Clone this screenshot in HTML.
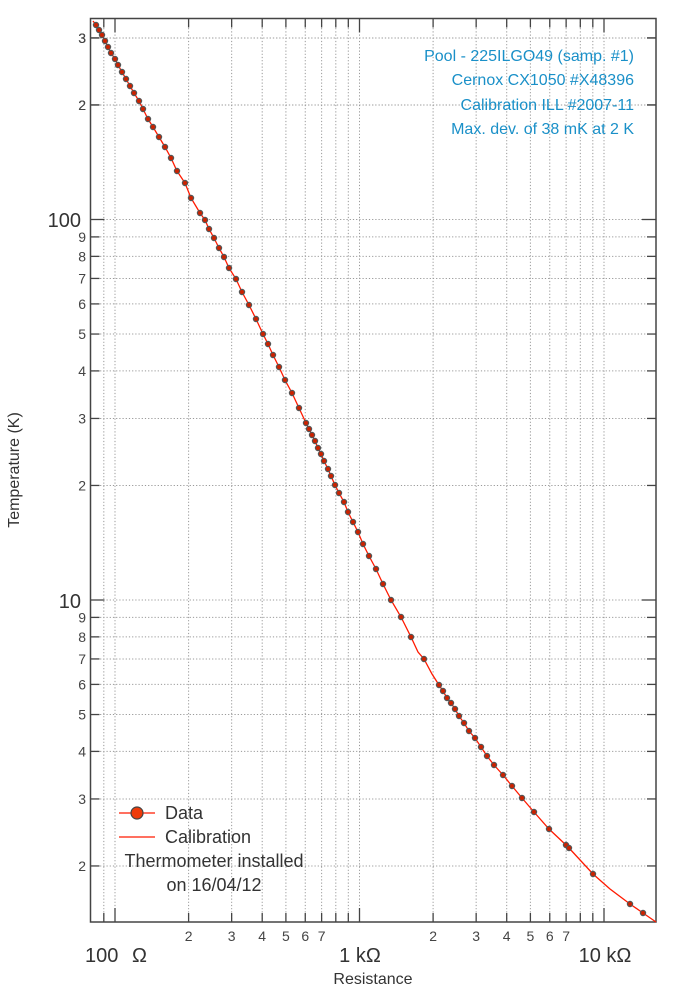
<!DOCTYPE html>
<html><head><meta charset="utf-8"><style>
html,body{margin:0;padding:0;background:#fff}
svg{display:block;font-family:"Liberation Sans",sans-serif}
</style></head><body>
<svg id="s" width="700" height="990" xmlns="http://www.w3.org/2000/svg">
<g id="grid" stroke="#999" stroke-width="1" stroke-dasharray="1.2,2"></g>
<g id="ticks" stroke="#444" stroke-width="1.3"></g>
<rect x="90.5" y="18.5" width="565.5" height="903.5" fill="none" stroke="#444" stroke-width="1.5"/>
<polyline id="curve" fill="none" stroke="#ff1a00" stroke-width="1.3" points="93,21 96,25 99,30 102,35 105,41 108,47 111,53 115,59 118,65 122,72 126,79 130,86 134,93 139,101 143,109 148,119 153,127 159,137 165,147 171,158 177,171 185,183 191,198 200,213 205,220 209,229 214,238 219,248 224,257 229,268 236,279 242,292 249,305 256,319 263,334 268,344 273,355 279,367 285,380 292,393 299,408 306,423 309,429 312,435 315,441 318,448 321,454 324,461 328,469 331,476 335,485 339,493 344,502 348,512 353,522 358,532 363,544 369,556 376,569 383,584 391,600 401,617 411,637 418,652 424,659 432,674 439,685 443,691 447,698 451,703 455,709 459,716 464,723 469,731 475,738 481,747 487,756 494,765 503,775 512,786 522,798 534,812 549,829 566,845 569,848 593,874 610,889 630,904 643,913 656,922"/>
<g id="dots"></g>
<g fill="#444" font-size="14" text-anchor="end" id="ylab"></g>
<g fill="#444" font-size="14" text-anchor="middle" id="xlab"></g>
<g fill="#333" font-size="20">
<text x="81" y="227" text-anchor="end">100</text>
<text x="81" y="608" text-anchor="end">10</text>
<text x="85" y="962">100</text><text x="132" y="962">Ω</text>
<text x="360" y="962" text-anchor="middle">1 kΩ</text>
<text x="605" y="962" text-anchor="middle">10 kΩ</text>
</g>
<text x="373" y="984" font-size="16" fill="#333" text-anchor="middle">Resistance</text>
<text transform="translate(19,470) rotate(-90)" font-size="16" fill="#333" text-anchor="middle">Temperature (K)</text>
<g fill="#1a90c8" font-size="16" text-anchor="end">
<text x="634" y="61">Pool - 225ILGO49 (samp. #1)</text>
<text x="634" y="85">Cernox CX1050 #X48396</text>
<text x="634" y="110">Calibration ILL #2007-11</text>
<text x="634" y="134">Max. dev. of 38 mK at 2 K</text>
</g>
<line x1="119" y1="813" x2="155" y2="813" stroke="#ff1a00" stroke-width="1.3"/>
<circle cx="137" cy="813" r="6" fill="#ee3a0a" stroke="#444" stroke-width="1.2"/>
<line x1="119" y1="837" x2="155" y2="837" stroke="#ff1a00" stroke-width="1.3"/>
<g fill="#333" font-size="18">
<text x="165" y="819">Data</text>
<text x="165" y="843">Calibration</text>
<text x="214" y="867" text-anchor="middle">Thermometer installed</text>
<text x="214" y="891" text-anchor="middle">on 16/04/12</text>
</g>
</svg>
<script>
var NS="http://www.w3.org/2000/svg";
function el(p,t,a,txt){var e=document.createElementNS(NS,t);for(var k in a)e.setAttribute(k,a[k]);if(txt)e.textContent=txt;document.getElementById(p).appendChild(e);}
function X(r){return 115+244.5*Math.log10(r/100);}
function Y(t){return 219.5-380.5*Math.log10(t/100);}
var L=90.5,R=656,T=18.5,B=922;
var xs=[80,90];for(var d=100;d<=10000;d*=10)for(var m=1;m<=9;m++){var v=d*m;if(v<=16000)xs.push(v);}
xs.forEach(function(r){var x=X(r);if(x<L+1||x>R-1)return;var maj=[100,1000,10000].indexOf(r)>=0;
el("grid","line",{x1:x,y1:T,x2:x,y2:B});
var l=maj?14:9;el("ticks","line",{x1:x,y1:B,x2:x,y2:B-l});el("ticks","line",{x1:x,y1:T,x2:x,y2:T+l});
var m=Math.round(r/Math.pow(10,Math.floor(Math.log10(r)+1e-9)));
if(!maj&&r>=200&&r<=9000&&m<=7)el("xlab","text",{x:x,y:941},String(m));});
var ys=[];for(var d=1;d<=100;d*=10)for(var m=1;m<=9;m++){var v=d*m;if(v>=1.4&&v<=340)ys.push(v);}
ys.push(200,300);
ys.forEach(function(t){var y=Y(t);if(y<T+1||y>B-1)return;var maj=(t==10||t==100);
el("grid","line",{x1:L,y1:y,x2:R,y2:y});
var l=maj?14:9;el("ticks","line",{x1:L,y1:y,x2:L+l,y2:y});el("ticks","line",{x1:R,y1:y,x2:R-l,y2:y});
if(!maj){var m=Math.round(t/Math.pow(10,Math.floor(Math.log10(t)+1e-9)));el("ylab","text",{x:86,y:y+5},String(m));}});
var pts=document.getElementById("curve").getAttribute("points").trim().split(/\s+/).map(function(p){return p.split(",").map(Number);});
pts.forEach(function(p,i){if(i==0||i==pts.length-1||(p[0]==418)||(p[0]==432)||(p[0]==610))return;
el("dots","circle",{cx:p[0],cy:p[1],r:2.6,fill:"#cc2200",stroke:"#555","stroke-width":1.2});});
</script>
</body></html>
